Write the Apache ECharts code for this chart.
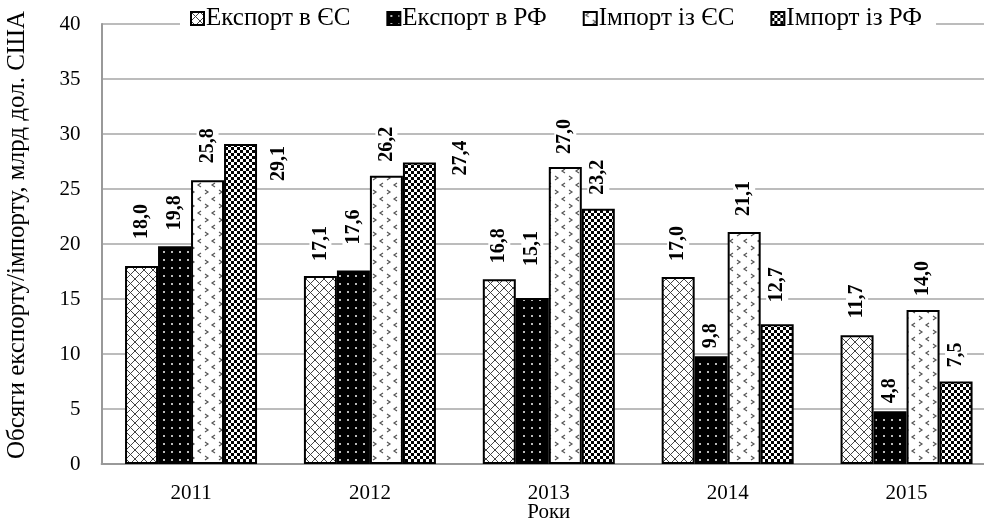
<!DOCTYPE html>
<html>
<head>
<meta charset="utf-8">
<script src="https://cdn.jsdelivr.net/npm/echarts@6/dist/echarts.min.js"></script>
<style>
html,body{margin:0;padding:0;background:#fff;}
#chart{width:984px;height:525px;}
</style>
</head>
<body>
<div id="chart"></div>
<script>
// ---- data ----
const categories = ['2011', '2012', '2013', '2014', '2015'];
const seriesNames = ['Експорт в ЄС', 'Експорт в РФ', 'Імпорт із ЄС', 'Імпорт із РФ'];
const exportEU = [18.0, 17.1, 16.8, 17.0, 11.7];
const exportRF = [19.8, 17.6, 15.1, 9.8, 4.8];
const importEU = [25.8, 26.2, 27.0, 21.1, 14.0];
const importRF = [29.1, 27.4, 23.2, 12.7, 7.5];
const yTicks = [0, 5, 10, 15, 20, 25, 30, 35, 40];
const xAxisName = 'Роки';
const yAxisName = 'Обсяги експорту/імпорту, млрд дол. США';

// ---- styles (label gaps above bar tops, px) ----
const labelGaps = [
  [26, 14, 15, 15, 16],
  [15, 25, 31, 7, 7],
  [16, 13, 12, 15, 13],
  [null, null, 13, 21, 13]
];
// special label placements (relative to bar rect), for series 4
const specialPos = { '3-0': [55, 38], '3-1': [58, 14] };

const FONT = "'Liberation Serif', 'Times New Roman', serif";

function makeCanvas(w, h, draw) {
  const c = document.createElement('canvas');
  c.width = w; c.height = h;
  const ctx = c.getContext('2d');
  draw(ctx);
  return c;
}
const patCross = makeCanvas(9, 9, ctx => {
  ctx.fillStyle = '#fff'; ctx.fillRect(0, 0, 9, 9);
  ctx.strokeStyle = '#444'; ctx.lineWidth = 1;
  ctx.beginPath();
  ctx.moveTo(0, 0); ctx.lineTo(9, 9);
  ctx.moveTo(9, 0); ctx.lineTo(0, 9);
  ctx.stroke();
});
const patBlackDots = makeCanvas(8, 8, ctx => {
  ctx.fillStyle = '#000'; ctx.fillRect(0, 0, 8, 8);
  ctx.fillStyle = '#bbb'; ctx.fillRect(3, 3, 2, 2);
});
const patChevron = makeCanvas(14, 14, ctx => {
  ctx.fillStyle = '#fff'; ctx.fillRect(0, 0, 14, 14);
  ctx.strokeStyle = '#555'; ctx.lineWidth = 1.2;
  ctx.beginPath();
  ctx.moveTo(5, 1); ctx.lineTo(2, 3); ctx.lineTo(5, 5);
  ctx.moveTo(9, 8); ctx.lineTo(12, 10); ctx.lineTo(9, 12);
  ctx.stroke();
});
const patChecker = makeCanvas(6, 6, ctx => {
  ctx.fillStyle = '#fff'; ctx.fillRect(0, 0, 6, 6);
  ctx.fillStyle = '#000';
  ctx.fillRect(0, 0, 3, 3); ctx.fillRect(3, 3, 3, 3);
});
const patterns = [patCross, patBlackDots, patChevron, patChecker];
const values = [exportEU, exportRF, importEU, importRF];

function fmt(v) { return v.toFixed(1).replace('.', ','); }

const series = values.map((vals, si) => ({
  name: seriesNames[si],
  type: 'bar',
  barWidth: 33,
  barGap: '0%',
  itemStyle: {
    color: { image: patterns[si], repeat: 'repeat' },
    borderColor: '#000',
    borderWidth: 2
  },
  label: {
    show: true,
    position: 'top',
    rotate: 90,
    align: 'left',
    verticalAlign: 'middle',
    formatter: p => fmt(p.value),
    fontFamily: FONT,
    fontWeight: 'bold',
    fontSize: 20,
    color: '#000',
    backgroundColor: '#fff',
    padding: [1, 1]
  },
  data: vals.map((v, i) => {
    const key = si + '-' + i;
    if (specialPos[key]) {
      return { value: v, label: { position: specialPos[key], distance: 0 } };
    }
    return { value: v, label: { distance: labelGaps[si][i] } };
  })
}));

const chart = echarts.init(document.getElementById('chart'), null, { renderer: 'canvas' });
chart.setOption({
  animation: false,
  backgroundColor: '#fff',
  textStyle: { fontFamily: FONT },
  legend: {
    data: seriesNames,
    left: 180,
    top: 3,
    padding: [3, 14, 3, 10],
    backgroundColor: '#fff',
    itemWidth: 13,
    itemHeight: 13,
    itemGap: 36,
    icon: 'rect',
    textStyle: { fontFamily: FONT, fontSize: 25, color: '#000', padding: [0, 0, 0, -3] }
  },
  grid: { left: 101.6, right: -12, top: 24, bottom: 61, containLabel: false, outerBoundsMode: 'none' },
  xAxis: {
    type: 'category',
    data: categories,
    name: xAxisName,
    nameLocation: 'middle',
    nameGap: 38,
    nameMoveOverlap: false,
    nameTextStyle: { fontFamily: FONT, fontSize: 21, color: '#000' },
    axisLine: { lineStyle: { color: '#999', width: 2 } },
    axisTick: { show: false },
    axisLabel: { fontFamily: FONT, fontSize: 21, color: '#000', margin: 19 }
  },
  yAxis: {
    type: 'value',
    min: yTicks[0],
    max: yTicks[yTicks.length - 1],
    interval: yTicks[1] - yTicks[0],
    name: yAxisName,
    nameLocation: 'middle',
    nameGap: 72,
    nameMoveOverlap: false,
    nameTextStyle: { fontFamily: FONT, fontSize: 25, color: '#000', padding: [0, 0, 0, 18] },
    axisLine: { show: true, lineStyle: { color: '#999', width: 2 } },
    axisTick: { show: false },
    axisLabel: { fontFamily: FONT, fontSize: 21, color: '#000', margin: 21 },
    splitLine: { lineStyle: { color: '#a6a6a6', width: 1.5 } }
  },
  series: series
});
</script>
</body>
</html>
